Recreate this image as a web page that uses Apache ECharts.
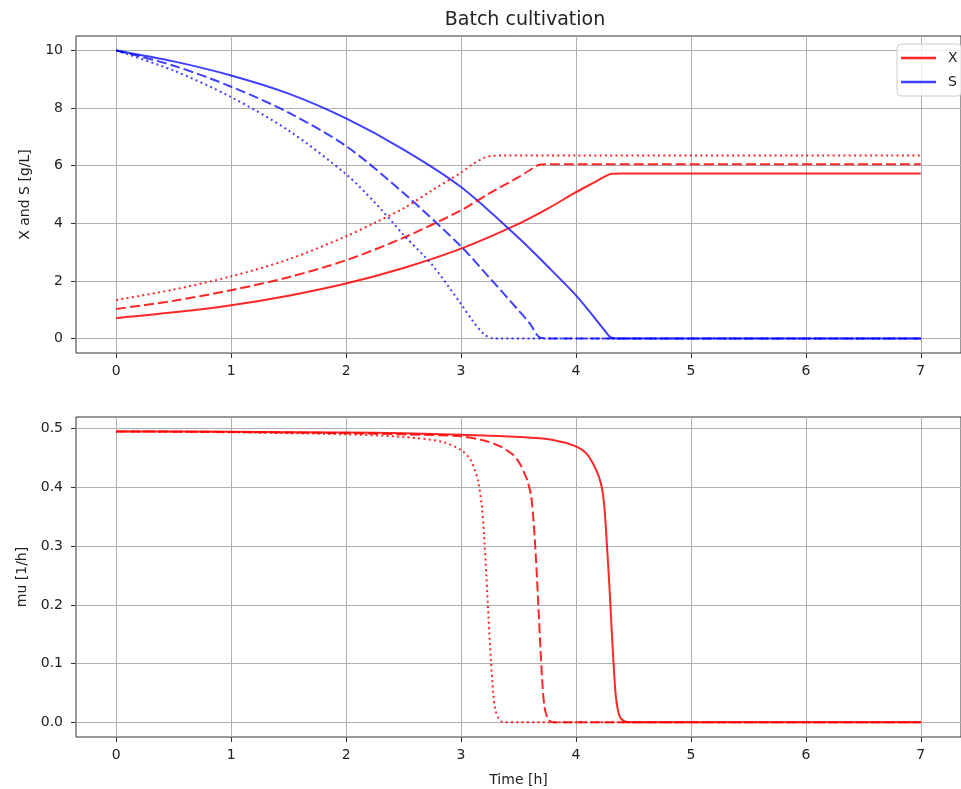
<!DOCTYPE html>
<html>
<head>
<meta charset="utf-8">
<script src="https://cdn.jsdelivr.net/npm/echarts@6/dist/echarts.min.js"></script>
<style>
  html, body { margin: 0; padding: 0; background: #fff; }
  #main { width: 961px; height: 789px; }
</style>
</head>
<body>
<div id="main"></div>
<script>
// tick labels
var timeTicks = [0, 1, 2, 3, 4, 5, 6, 7];
var xsTicks = [0, 2, 4, 6, 8, 10];
var muTicks = [0, 0.1, 0.2, 0.3, 0.4, 0.5];

// biomass X and substrate S [g/L] (solid / dashed / dotted runs)
var tSolid = [0, 0.5, 1, 1.5, 2, 2.5, 3, 3.5, 3.75, 4, 4.15, 4.25, 4.31, 4.4, 5, 6, 7];
var xSolid = [0.71, 0.91, 1.16, 1.49, 1.91, 2.45, 3.12, 3.98, 4.5, 5.08, 5.4, 5.62, 5.72, 5.73, 5.73, 5.73, 5.73];
var sSolid = [10, 9.62, 9.13, 8.5, 7.64, 6.56, 5.26, 3.5, 2.52, 1.5, 0.78, 0.28, 0.03, 0, 0, 0, 0];

var tDash = [0, 0.5, 1, 1.5, 2, 2.5, 3, 3.25, 3.5, 3.6, 3.69, 3.8, 7];
var xDash = [1.03, 1.31, 1.68, 2.13, 2.72, 3.5, 4.45, 5.05, 5.6, 5.85, 6.04, 6.05, 6.05];
var sDash = [10, 9.47, 8.74, 7.84, 6.68, 5.05, 3.2, 2.1, 0.98, 0.52, 0.03, 0, 0];

var tDot = [0, 0.5, 1, 1.5, 2, 2.25, 2.5, 2.75, 3, 3.1, 3.2, 3.27, 3.35, 4, 5, 6, 7];
var xDot = [1.34, 1.7, 2.16, 2.75, 3.55, 4.02, 4.52, 5.15, 5.76, 6.05, 6.27, 6.34, 6.35, 6.35, 6.35, 6.35, 6.35];
var sDot = [10, 9.3, 8.38, 7.22, 5.7, 4.72, 3.6, 2.55, 1.2, 0.62, 0.15, 0.01, 0, 0, 0, 0, 0];

// specific growth rate mu [1/h]
var tMuSolid = [0, 1, 2, 2.5, 3, 3.5, 3.8, 4, 4.09, 4.15, 4.2, 4.23, 4.25, 4.27, 4.29, 4.31, 4.33, 4.35, 4.38, 4.42, 4.5, 5, 6, 7];
var muSolid = [0.4955, 0.4948, 0.4935, 0.4922, 0.4897, 0.486, 0.481, 0.47, 0.458, 0.44, 0.418, 0.395, 0.36, 0.3, 0.235, 0.16, 0.09, 0.039, 0.01, 0.002, 0, 0, 0, 0];

var tMuDash = [0, 1, 2, 2.5, 3, 3.2, 3.34, 3.45, 3.51, 3.55, 3.58, 3.61, 3.63, 3.65, 3.67, 3.69, 3.71, 3.73, 3.76, 3.8, 4, 5, 6, 7];
var muDash = [0.4955, 0.4945, 0.4925, 0.4905, 0.487, 0.48, 0.47, 0.456, 0.441, 0.425, 0.41, 0.385, 0.345, 0.285, 0.21, 0.13, 0.06, 0.022, 0.005, 0, 0, 0, 0, 0];

var tMuDot = [0, 1, 2, 2.5, 2.83, 3, 3.08, 3.12, 3.15, 3.18, 3.2, 3.22, 3.24, 3.26, 3.28, 3.3, 3.33, 3.37, 3.5, 4, 5, 6, 7];
var muDot = [0.4955, 0.494, 0.4905, 0.486, 0.478, 0.464, 0.448, 0.43, 0.41, 0.37, 0.32, 0.25, 0.175, 0.105, 0.05, 0.02, 0.006, 0, 0, 0, 0, 0, 0];

var RED = 'rgba(255,0,0,0.85)';
var BLUE = 'rgba(0,0,255,0.75)';
var DASH = [10, 4];
var DOT = [2, 3.3];
var FONT = 'DejaVu Sans';

function pairs(t, y) {
    return t.map(function (v, i) { return [v, y[i]]; });
}

function line(name, t, y, color, type, axis) {
    return {
        name: name,
        type: 'line',
        xAxisIndex: axis,
        yAxisIndex: axis,
        data: pairs(t, y),
        symbol: 'none',
        smooth: 0.3,
        lineStyle: { color: color, width: 2, type: type },
        itemStyle: { color: color },
        silent: true,
        z: 3
    };
}

function xAxis(idx, name) {
    return {
        type: 'value',
        gridIndex: idx,
        min: -0.35,
        max: 7.35,
        name: name,
        nameLocation: 'middle',
        nameGap: 36,
        nameTextStyle: { color: '#222', fontSize: 14, fontFamily: FONT },
        axisLine: { show: false, onZero: false },
        axisTick: { show: true, length: 5, customValues: timeTicks, lineStyle: { color: '#333' } },
        axisLabel: { customValues: timeTicks, color: '#222', fontSize: 14, fontFamily: FONT, margin: 11 },
        splitLine: { show: true, lineStyle: { color: '#b0b0b0', width: 1 } }
    };
}

function yAxis(idx, name, min, max, ticks, fmt) {
    return {
        type: 'value',
        gridIndex: idx,
        min: min,
        max: max,
        name: name,
        nameLocation: 'middle',
        nameGap: 44,
        nameRotate: 90,
        nameTextStyle: { color: '#222', fontSize: 14, fontFamily: FONT },
        axisLine: { show: false, onZero: false },
        axisTick: { show: true, length: 5, customValues: ticks, lineStyle: { color: '#333' } },
        axisLabel: { customValues: ticks, color: '#222', fontSize: 14, fontFamily: FONT, margin: 13, formatter: fmt },
        splitLine: { show: true, lineStyle: { color: '#b0b0b0', width: 1 } }
    };
}

var myChart = echarts.init(document.getElementById('main'));
var option = {
    backgroundColor: '#fff',
    animation: false,
    title: {
        text: 'Batch cultivation',
        left: 520,
        textAlign: 'center',
        top: 6,
        textStyle: { color: '#222', fontSize: 19, fontWeight: 'normal', fontFamily: FONT }
    },
    legend: {
        data: ['X', 'S'],
        orient: 'vertical',
        left: 897,
        top: 44,
        padding: [7, 4],
        itemGap: 10,
        itemWidth: 35,
        itemHeight: 2.5,
        icon: 'rect',
        backgroundColor: 'rgba(255,255,255,0.8)',
        borderColor: '#cccccc',
        borderWidth: 1,
        borderRadius: 4,
        textStyle: { color: '#222', fontSize: 14, fontFamily: FONT, padding: [0, 0, 0, 7] }
    },
    grid: [
        { left: 76, top: 36, width: 898, height: 317, show: true, borderColor: '#333', borderWidth: 1, backgroundColor: '#fff' },
        { left: 76, top: 417, width: 898, height: 320, show: true, borderColor: '#333', borderWidth: 1, backgroundColor: '#fff' }
    ],
    xAxis: [xAxis(0, ''), xAxis(1, 'Time [h]')],
    yAxis: [
        yAxis(0, 'X and S [g/L]', -0.5, 10.5, xsTicks, function (v) { return String(v); }),
        yAxis(1, 'mu [1/h]', -0.025, 0.52, muTicks, function (v) { return v.toFixed(1); })
    ],
    series: [
        line('X', tSolid, xSolid, RED, 'solid', 0),
        line('S', tSolid, sSolid, BLUE, 'solid', 0),
        line('X', tDash, xDash, RED, DASH, 0),
        line('S', tDash, sDash, BLUE, DASH, 0),
        line('X', tDot, xDot, RED, DOT, 0),
        line('S', tDot, sDot, BLUE, DOT, 0),
        line('mu', tMuSolid, muSolid, RED, 'solid', 1),
        line('mu', tMuDash, muDash, RED, DASH, 1),
        line('mu', tMuDot, muDot, RED, DOT, 1)
    ]
};
myChart.setOption(option);
</script>
</body>
</html>
